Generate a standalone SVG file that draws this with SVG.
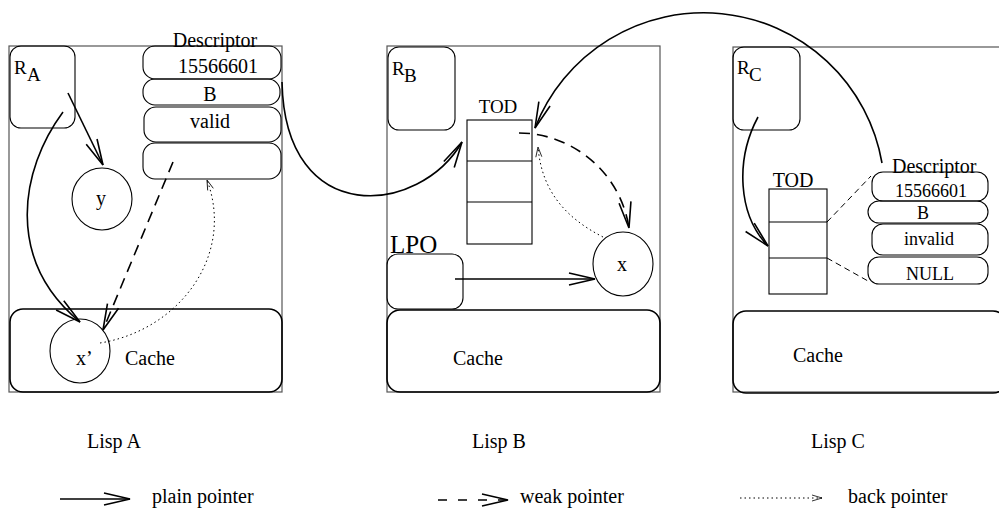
<svg xmlns="http://www.w3.org/2000/svg" width="999" height="512" viewBox="0 0 999 512">
<style>
text{font-family:"Liberation Serif","Times New Roman",serif;fill:#000;font-size:20px}
text.s18{font-size:18px}
text.s19{font-size:19px}
text.s25{font-size:25px}
.frame{fill:none;stroke:#555;stroke-width:1.2}
.box{fill:none;stroke:#000;stroke-width:1.1}
.cache{fill:none;stroke:#000;stroke-width:1.6}
.plain{fill:none;stroke:#000;stroke-width:1.6;marker-end:url(#head)}
.weak{fill:none;stroke:#000;stroke-width:1.6;stroke-dasharray:11 7;marker-end:url(#head)}
.back{fill:none;stroke:#000;stroke-width:1;stroke-dasharray:1.5 3;marker-end:url(#bhead)}
.link{fill:none;stroke:#000;stroke-width:1;stroke-dasharray:6 4}
.m{text-anchor:middle}
</style>
<defs>
<marker id="head" markerUnits="userSpaceOnUse" orient="auto" markerWidth="30" markerHeight="16" refX="0" refY="0" viewBox="-28 -8 30 16" overflow="visible">
<path d="M-26,-6 L0,0 L-26,6" fill="none" stroke="#000" stroke-width="1.6"/>
</marker>
<marker id="bhead" markerUnits="userSpaceOnUse" orient="auto" markerWidth="14" markerHeight="8" refX="0" refY="0" viewBox="-12 -4 14 8" overflow="visible">
<path d="M-10,-3 L0,0 L-10,3" fill="none" stroke="#000" stroke-width="0.8"/>
</marker>
</defs>

<g id="lispA">
<rect class="frame" x="9" y="46" width="273" height="346"/>
<g id="RA"><rect class="box" x="10" y="46" width="65" height="82" rx="11"/><text class="s19" x="14" y="74">R</text><text class="s19" x="27" y="81">A</text></g>
<g id="descA">
<text class="m" x="215" y="47">Descriptor</text>
<rect class="box" x="143" y="46" width="138" height="33" rx="12"/>
<text class="m" x="218" y="73">15566601</text>
<rect class="box" x="143" y="79" width="137" height="26" rx="12"/>
<text class="m" x="210" y="101">B</text>
<rect class="box" x="144" y="107" width="137" height="35" rx="12"/>
<text class="m" x="210" y="128">valid</text>
<rect class="box" x="143" y="143" width="138" height="36" rx="12"/>
</g>
<g id="yA"><ellipse class="box" cx="102" cy="199" rx="30" ry="31"/><text class="m" x="101" y="205">y</text></g>
<g id="cacheA"><rect class="cache" x="10" y="309" width="272" height="83" rx="13"/><text x="125" y="365">Cache</text></g>
<g id="xpA"><ellipse class="box" cx="80" cy="351" rx="30" ry="32"/><text x="76" y="365">x’</text></g>
<text id="labelA" x="87" y="448">Lisp A</text>
</g>

<g id="lispB">
<rect class="frame" x="387" y="46" width="273" height="346"/>
<g id="RB"><rect class="box" x="388" y="47" width="67" height="83" rx="11"/><text class="s19" x="392" y="75">R</text><text class="s19" x="404" y="82">B</text></g>
<g id="todB">
<text class="m s19" x="498" y="113">TOD</text>
<rect class="box" x="467" y="120" width="65" height="124"/>
<line class="box" x1="467" y1="161" x2="532" y2="161"/>
<line class="box" x1="467" y1="202" x2="532" y2="202"/>
</g>
<g id="lpoB"><text class="s25" x="390" y="253">LPO</text><rect class="box" x="387" y="254" width="76" height="55" rx="11"/></g>
<g id="xB"><ellipse class="box" cx="623" cy="264" rx="30" ry="32"/><text class="m" x="622" y="271">x</text></g>
<g id="cacheB"><rect class="cache" x="387" y="310" width="273" height="82" rx="13"/><text x="453" y="365">Cache</text></g>
<text id="labelB" x="472" y="448">Lisp B</text>
</g>

<g id="lispC">
<rect class="frame" x="733" y="47" width="273" height="345"/>
<g id="RC"><rect class="box" x="733" y="47" width="67" height="83" rx="11"/><text class="s19" x="737" y="74">R</text><text class="s19" x="749" y="81">C</text></g>
<g id="todC">
<text class="m" x="793" y="187">TOD</text>
<rect class="box" x="769" y="189" width="58" height="105"/>
<line class="box" x1="769" y1="222" x2="827" y2="222"/>
<line class="box" x1="769" y1="258" x2="827" y2="258"/>
</g>
<g id="descC">
<text x="892" y="173">Descriptor</text>
<rect class="box" x="872" y="172" width="116" height="29" rx="11"/>
<text class="m s18" x="931" y="197">15566601</text>
<rect class="box" x="868" y="201" width="120" height="22" rx="11"/>
<text class="m s18" x="923" y="219">B</text>
<rect class="box" x="872" y="224" width="116" height="31" rx="11"/>
<text class="m s18" x="929" y="245">invalid</text>
<rect class="box" x="868" y="257" width="120" height="27" rx="11"/>
<text class="m s18" x="930" y="280">NULL</text>
</g>
<g id="cacheC"><rect class="cache" x="733" y="311" width="273" height="82" rx="13"/><text x="793" y="362">Cache</text></g>
<text id="labelC" x="811" y="448">Lisp C</text>
</g>

<g id="connectors">
<path class="plain" d="M68,93 L103,165"/>
<path class="plain" d="M63,112 C20,170 5,260 80,322"/>
<path class="weak" d="M173,162 L103,330"/>
<path class="back" d="M100,343 C180,330 235,255 207,180"/>
<path class="plain" d="M282,82 C285,230 420,215 462,142"/>
<path class="plain" d="M882,163 A181,181 0 0 0 535,128"/>
<path class="weak" d="M519,133 C570,133 620,170 629,228"/>
<path class="back" d="M603,237 C570,220 542,195 538,147"/>
<path class="plain" d="M455,279 L595,279"/>
<path class="plain" d="M758,117 C735,160 738,215 768,246"/>
<path class="link" d="M827,222 L871,176"/>
<path class="link" d="M827,258 L868,281"/>
</g>

<g id="legend">
<path class="plain" d="M60,499 L130,499"/>
<text x="152" y="503">plain pointer</text>
<path class="weak" d="M438,500 L508,500" style="stroke-dasharray:9 11"/>
<text x="520" y="503">weak pointer</text>
<path class="back" d="M740,498 L822,498"/>
<text x="848" y="503">back pointer</text>
</g>
</svg>
